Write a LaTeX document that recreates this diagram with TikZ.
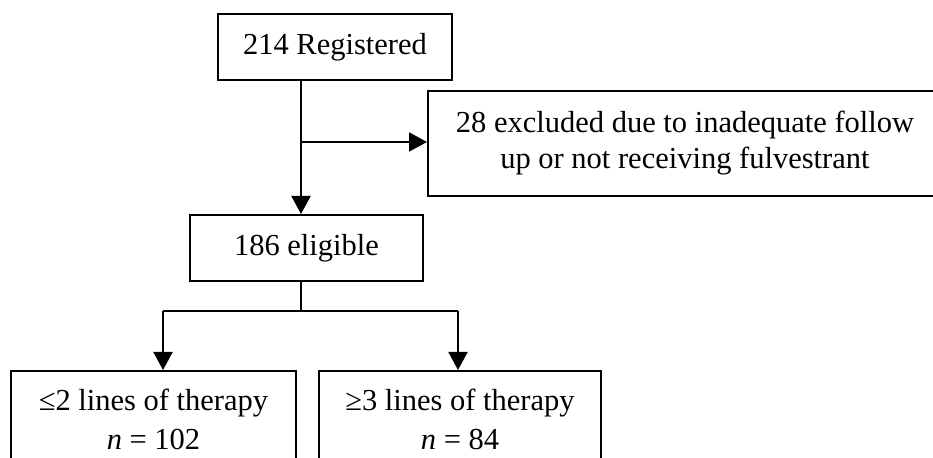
\documentclass[tikz,border=0pt]{standalone}
\usepackage{fontspec}
\setmainfont{Liberation Serif}
\usetikzlibrary{arrows.meta}
\tikzset{
	box/.style={draw, line width=1pt, align=center, inner sep=0pt,
		font=\fontsize{15.25}{18}\selectfont},
	groupbox/.style={box, minimum height=48pt,
		font=\fontsize{15.25}{19.5}\selectfont},
	arr/.style={-{Triangle[length=9pt,width=9.5pt]}, line width=1pt}
}
\begin{document}
\begin{tikzpicture}[x=0.5pt,y=-0.5pt]
		\clip (0,0) rectangle (933,458);
		\useasboundingbox (0,0) rectangle (933,458);
		\node[box, minimum width=117pt, minimum height=33pt] (reg) at (335,47) {214 Registered};
		\node[box, minimum width=257pt, minimum height=52.5pt] (excl) at (685,143.5) {28 excluded due to inadequate follow\\up or not receiving fulvestrant};
		\node[box, minimum width=116.5pt, minimum height=33pt] (elig) at (306.5,248) {186 eligible};
		\node[groupbox, minimum width=142.5pt] (low) at (153.5,419) {≤2 lines of therapy\\\textit{n} = 102};
		\node[groupbox, minimum width=141pt] (high) at (460,419) {≥3 lines of therapy\\\textit{n} = 84};
		% trunk from registered down to eligible
		\coordinate (split) at (301,142);
		\draw[arr] (split |- reg.south) -- (split |- elig.north);
		\draw[arr] (split) -- (split -| excl.west);
		% branches to the two groups
		\coordinate (fork) at (301,311);
		\coordinate (lfork) at (163,311);
		\coordinate (rfork) at (458,311);
		\draw[line width=1pt] (fork |- elig.south) -- (fork);
		\draw[line width=1pt] (lfork) -- (rfork);
		\draw[arr] (lfork) -- (lfork |- low.north);
		\draw[arr] (rfork) -- (rfork |- high.north);
	\end{tikzpicture}
\end{document}
